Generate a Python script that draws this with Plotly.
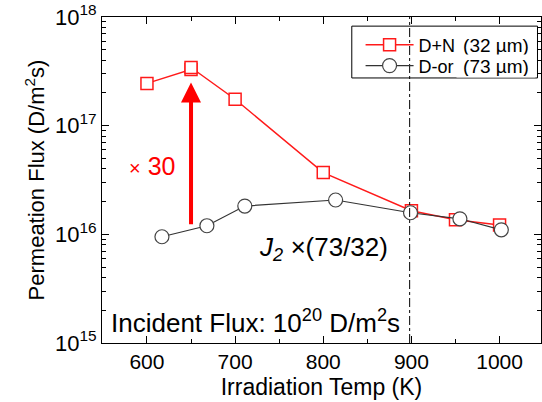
import math
import plotly.graph_objects as go

# ---- data ----
dn_temp = [600, 650, 650, 700, 800, 900, 950, 1000]
dn_flux = [2.45e17, 3.29e17, 3.43e17, 1.75e17, 3.7e16, 1.65e16, 1.36e16, 1.22e16]

dor_temp = [617, 668, 711, 814, 899, 955, 1002]
dor_flux = [9.5e15, 1.2e16, 1.82e16, 2.07e16, 1.58e16, 1.39e16, 1.1e16]

x_ticks = [600, 700, 800, 900, 1000]
y_ticks = [1e15, 1e16, 1e17, 1e18]
y_ticktext = ["10<sup>15</sup>", "10<sup>16</sup>", "10<sup>17</sup>", "10<sup>18</sup>"]

vline_temp = 898
arrow_temp = 650
arrow_from = 1.2e16
arrow_to = 2.5e17

FONT = "Arial, Liberation Sans, sans-serif"

fig = go.Figure()
fig.add_trace(go.Scatter(
    x=dn_temp, y=dn_flux, mode="lines+markers", name="D+N", legend="legend",
    line=dict(color="#ff1a1a", width=1.5),
    marker=dict(symbol="square", size=12, color="white", line=dict(color="#ff1a1a", width=1.5)),
))
fig.add_trace(go.Scatter(
    x=dor_temp, y=dor_flux, mode="lines+markers", name="D-or", legend="legend2",
    line=dict(color="#333333", width=1.2),
    marker=dict(symbol="circle", size=14, color="white", line=dict(color="#444444", width=1.2)),
))

# vertical dash-dot line
fig.add_shape(type="line", xref="x", yref="paper", x0=vline_temp, x1=vline_temp, y0=0, y1=1,
              line=dict(color="black", width=1, dash="dashdot"))

# legend frame
fig.add_shape(type="rect", xref="paper", yref="paper", x0=0.569, x1=0.992, y0=0.813, y1=0.972,
              line=dict(color="black", width=1), fillcolor="rgba(0,0,0,0)", layer="above")

fig.add_annotation(x=arrow_temp, y=math.log10(arrow_to), ax=arrow_temp, ay=math.log10(arrow_from),
                   xref="x", yref="y", axref="x", ayref="y", text="", showarrow=True,
                   arrowcolor="#ff0000", arrowwidth=4, arrowhead=2, arrowsize=1)

fig.add_annotation(x=606, y=16.63, xref="x", yref="y",
                   text="<span style='font-size:20px'>×</span> 30",
                   showarrow=False, font=dict(family=FONT, size=25, color="#ff0000"))
fig.add_annotation(x=0.505, y=0.232, xref="paper", yref="paper", xanchor="center",
                   text="<i>J<sub>2</sub> ×</i>(73/32)", showarrow=False,
                   font=dict(family=FONT, size=26, color="black"))
fig.add_annotation(x=0.015, y=0.008, xref="paper", yref="paper", xanchor="left",
                   text="Incident Flux: 10<sup>20</sup> D/m<sup>2</sup>s", showarrow=False,
                   font=dict(family=FONT, size=26, color="black"))

for yy, txt in [(0.914, "(32 µm)"), (0.850, "(73 µm)")]:
    fig.add_annotation(x=0.898, y=yy, xref="paper", yref="paper", xanchor="center", yanchor="middle",
                       text=txt, showarrow=False, bgcolor="white", width=76, height=20,
                       font=dict(family=FONT, size=19, color="black"))

leg_common = dict(xanchor="left", yanchor="middle", bgcolor="rgba(0,0,0,0)", borderwidth=0,
                  font=dict(family=FONT, size=18), itemwidth=48)

fig.update_layout(
    width=542, height=402,
    margin=dict(l=102, r=1, t=17, b=59),
    paper_bgcolor="white", plot_bgcolor="white",
    font=dict(family=FONT, size=18, color="black"),
    showlegend=True,
    legend=dict(x=0.589, y=0.914, **leg_common),
    legend2=dict(x=0.589, y=0.850, **leg_common),
    xaxis=dict(range=[549, 1047], tickvals=x_ticks, ticks="inside", ticklen=7, tickcolor="black",
               showline=True, linecolor="black", linewidth=1, mirror="allticks", showgrid=False,
               zeroline=False, tickfont=dict(family=FONT, size=21),
               minor=dict(ticks="inside", ticklen=4, dtick=50, tickcolor="black", showgrid=False),
               title=dict(text="Irradiation Temp (K)", font=dict(family=FONT, size=23), standoff=6)),
    yaxis=dict(type="log", range=[15, 18], tickvals=y_ticks, ticktext=y_ticktext, ticks="inside",
               ticklen=7, tickcolor="black", showline=True, linecolor="black", linewidth=1,
               mirror="allticks", showgrid=False, zeroline=False, tickfont=dict(family=FONT, size=22),
               minor=dict(ticks="inside", ticklen=4, dtick="D1", tickcolor="black", showgrid=False),
               title=dict(text="Permeation Flux (D/m<sup>2</sup>s)", font=dict(family=FONT, size=22),
                          standoff=4)),
)

fig.write_html("out.html")
